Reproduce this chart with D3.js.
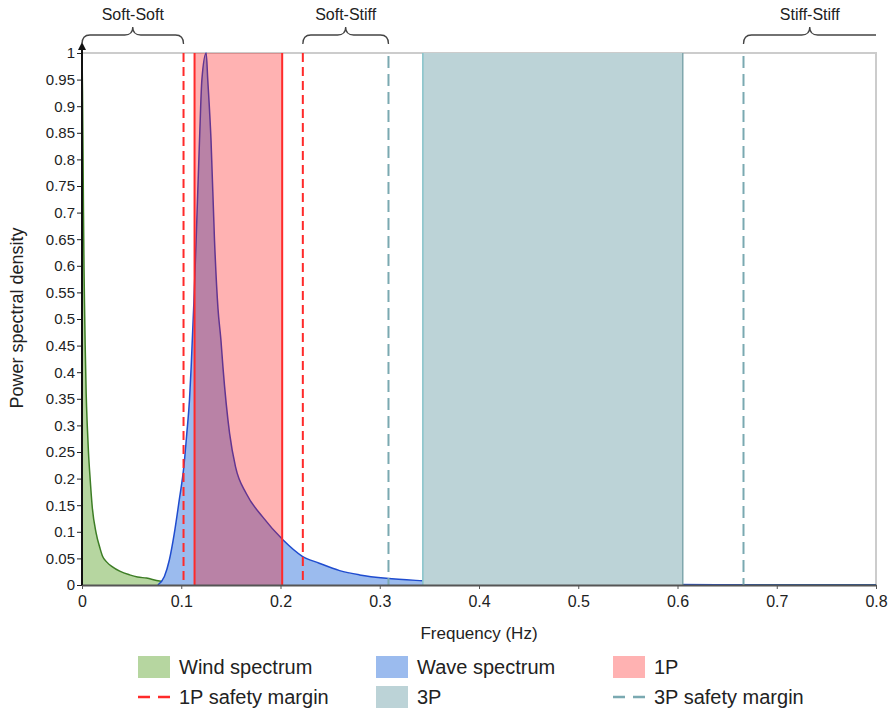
<!DOCTYPE html>
<html>
<head>
<meta charset="utf-8">
<script src="https://cdn.jsdelivr.net/npm/d3@7"></script>
<style>
  body { margin: 0; background: #fff; }
  svg text { font-family: "Liberation Sans", Arial, sans-serif; fill: #222; }
</style>
</head>
<body>
<svg id="viz"></svg>
<script>
// ----------------------------------------------------------------------------------------------------------------
// DATA

var windFreq = [0, 0.0005, 0.001, 0.0015, 0.002, 0.0025, 0.0032, 0.0042, 0.0053, 0.0065, 0.0083, 0.0103,
  0.0143, 0.018, 0.0207, 0.025, 0.0307, 0.038, 0.048, 0.056, 0.065, 0.078, 0.1, 0.2, 0.4, 0.8];
var windPsd = [1, 0.93, 0.82, 0.7, 0.6, 0.53, 0.45, 0.36, 0.3, 0.25, 0.197, 0.147,
  0.097, 0.07, 0.054, 0.043, 0.034, 0.026, 0.019, 0.015, 0.013, 0.0075, 0.005, 0.002, 0.001, 0.0005];

var waveFreq = [0.0764, 0.083, 0.088, 0.093, 0.098, 0.1026, 0.1056, 0.1083, 0.110, 0.1127, 0.115, 0.1184,
  0.1208, 0.1251, 0.1267, 0.130, 0.1335, 0.137, 0.140, 0.142, 0.1487, 0.1547, 0.1655, 0.182, 0.2024,
  0.222, 0.239, 0.2596, 0.2796, 0.3066, 0.3434, 0.4, 0.5, 0.6, 0.7, 0.8];
var wavePsd = [0, 0.016, 0.047, 0.097, 0.16, 0.222, 0.285, 0.348, 0.41, 0.53, 0.648, 0.836,
  0.95, 1.0, 0.95, 0.836, 0.648, 0.52, 0.46, 0.41, 0.285, 0.222, 0.172, 0.128, 0.085,
  0.054, 0.041, 0.027, 0.019, 0.0125, 0.008, 0.004, 0.002, 0.001, 0, 0];

var band1P = [0.1134, 0.2017];
var margin1P = [0.1023, 0.2225];
var band3P = [0.3434, 0.6053];
var margin3P = [0.3088, 0.6665];

var regimeNames = ["Soft-Soft", "Soft-Stiff", "Stiff-Stiff"];
var regimeFrom = [0, 0.2225, 0.6665];
var regimeTo = [0.1023, 0.3088, 0.8];

var xTicks = [0, 0.1, 0.2, 0.3, 0.4, 0.5, 0.6, 0.7, 0.8];
var yTicks = [0, 0.05, 0.1, 0.15, 0.2, 0.25, 0.3, 0.35, 0.4, 0.45, 0.5, 0.55, 0.6, 0.65, 0.7, 0.75, 0.8, 0.85, 0.9, 0.95, 1];

var legendLabels = ["Wind spectrum", "Wave spectrum", "1P", "1P safety margin", "3P", "3P safety margin"];


// ----------------------------------------------------------------------------------------------------------------
// INITIAL SETUP

var w = 890;
var h = 715;
var viz = d3.select("#viz").attr("width", w).attr("height", h);

// note: "top" is taken by window.top, so the plot edges get their own names
var plotL = 82, plotR = 876, plotT = 53, plotB = 585;
var x = d3.scaleLinear().domain([0, 0.8]).range([plotL, plotR]);
var y = d3.scaleLinear().domain([0, 1]).range([plotB, plotT]);

var windColor = "#b6d6a0", windLine = "#3d7d25";
var waveColor = "#9bbbee", waveLine = "#1f4ccf";
var onePColor = "rgba(255,0,0,0.3)", red = "#ff2a2a";
var threePColor = "#bcd3d7", threePLine = "#7aa9b1";

var windPts = windFreq.map(function(f, i) { return [f, windPsd[i]]; });
var wavePts = waveFreq.map(function(f, i) { return [f, wavePsd[i]]; });

var area = d3.area()
  .x(function(d) { return x(d[0]); })
  .y0(y(0))
  .y1(function(d) { return y(d[1]); })
  .curve(d3.curveMonotoneX);
var line = d3.line()
  .x(function(d) { return x(d[0]); })
  .y(function(d) { return y(d[1]); })
  .curve(d3.curveMonotoneX);


// ----------------------------------------------------------------------------------------------------------------
// CHART

// frame (top + right in light grey)
viz.append("path")
  .attr("d", "M" + plotL + "," + plotT + "H" + plotR + "V" + plotB)
  .attr("fill", "none")
  .attr("stroke", "#cccccc")
  .attr("stroke-width", 2);

// wind spectrum
viz.append("path").attr("d", area(windPts)).attr("fill", windColor);
viz.append("path").attr("d", line(windPts)).attr("fill", "none").attr("stroke", windLine).attr("stroke-width", 1.5);

// wave spectrum
viz.append("path").attr("d", area(wavePts)).attr("fill", waveColor);
viz.append("path").attr("d", line(wavePts)).attr("fill", "none").attr("stroke", waveLine).attr("stroke-width", 1.5);

// 1P band, translucent so the wave shows through
viz.append("rect")
  .attr("x", x(band1P[0])).attr("y", plotT)
  .attr("width", x(band1P[1]) - x(band1P[0])).attr("height", plotB - plotT)
  .attr("fill", onePColor);
viz.selectAll(".edge1p")
  .data(band1P)
  .enter()
  .append("line")
  .attr("x1", function(d) { return x(d); }).attr("x2", function(d) { return x(d); })
  .attr("y1", plotT).attr("y2", plotB)
  .attr("stroke", red).attr("stroke-width", 2);

// 3P band
viz.append("rect")
  .attr("x", x(band3P[0])).attr("y", plotT)
  .attr("width", x(band3P[1]) - x(band3P[0])).attr("height", plotB - plotT)
  .attr("fill", threePColor);
viz.selectAll(".edge3p")
  .data(band3P)
  .enter()
  .append("line")
  .attr("x1", function(d) { return x(d); }).attr("x2", function(d) { return x(d); })
  .attr("y1", plotT).attr("y2", plotB)
  .attr("stroke", function(d, i) { return i === 0 ? "#86c3c9" : "#7fa7ad"; })
  .attr("stroke-width", 1.5);

// safety margins
viz.selectAll(".margin1p")
  .data(margin1P)
  .enter()
  .append("line")
  .attr("x1", function(d) { return x(d); }).attr("x2", function(d) { return x(d); })
  .attr("y1", plotT).attr("y2", plotB)
  .attr("stroke", red).attr("stroke-width", 2)
  .attr("stroke-dasharray", "9,5");
viz.selectAll(".margin3p")
  .data(margin3P)
  .enter()
  .append("line")
  .attr("x1", function(d) { return x(d); }).attr("x2", function(d) { return x(d); })
  .attr("y1", plotT + 3).attr("y2", plotB)
  .attr("stroke", threePLine).attr("stroke-width", 2)
  .attr("stroke-dasharray", "12,6");


// ----------------------------------------------------------------------------------------------------------------
// AXES

var xAxis = viz.append("g")
  .attr("transform", "translate(0," + plotB + ")")
  .call(d3.axisBottom(x).tickValues(xTicks).tickSize(4).tickSizeOuter(0).tickFormat(d3.format("")));
xAxis.select(".domain").attr("stroke", "#555").attr("stroke-width", 2);
xAxis.selectAll(".tick line").attr("stroke", "#555");
xAxis.selectAll("text").attr("font-size", 16).attr("fill", "#222").attr("dy", "0.95em");

var yAxis = viz.append("g")
  .attr("transform", "translate(" + plotL + ",0)")
  .call(d3.axisLeft(y).tickValues(yTicks).tickSize(5).tickSizeOuter(0).tickFormat(d3.format("")));
yAxis.select(".domain").remove();
yAxis.selectAll(".tick line").attr("stroke", "#222");
yAxis.selectAll("text").attr("font-size", 15).attr("fill", "#222").attr("x", -7);

// y axis line with arrow head
viz.append("line")
  .attr("x1", plotL).attr("x2", plotL).attr("y1", plotB).attr("y2", plotT - 6)
  .attr("stroke", "#111").attr("stroke-width", 2);
viz.append("path")
  .attr("d", "M" + (plotL - 4) + "," + (plotT - 3) + "L" + plotL + "," + (plotT - 11) + "L" + (plotL + 4) + "," + (plotT - 3) + "Z")
  .attr("fill", "#111");

viz.append("text")
  .attr("x", (plotL + plotR) / 2).attr("y", 639)
  .attr("text-anchor", "middle").attr("font-size", 17)
  .text("Frequency (Hz)");
viz.append("text")
  .attr("transform", "translate(23,318) rotate(-90)")
  .attr("text-anchor", "middle").attr("font-size", 18)
  .text("Power spectral density");


// ----------------------------------------------------------------------------------------------------------------
// REGIME BRACES

function bracePath(x1, x2, curlRight) {
  var yb = 44, ym = 35, yt = 27, r = 8;
  var xm = (x1 + x2) / 2;
  var p = "M" + x1 + "," + yb + "Q" + x1 + "," + ym + " " + (x1 + r) + "," + ym +
    "H" + (xm - r) + "Q" + xm + "," + ym + " " + xm + "," + yt +
    "Q" + xm + "," + ym + " " + (xm + r) + "," + ym;
  if (curlRight) {
    p += "H" + (x2 - r) + "Q" + x2 + "," + ym + " " + x2 + "," + yb;
  } else {
    p += "H" + x2;
  }
  return p;
}

regimeNames.forEach(function(name, i) {
  var x1 = x(regimeFrom[i]), x2 = x(regimeTo[i]);
  viz.append("path")
    .attr("d", bracePath(x1, x2, i < 2))
    .attr("fill", "none").attr("stroke", "#444").attr("stroke-width", 1.3);
  viz.append("text")
    .attr("x", (x1 + x2) / 2).attr("y", 20)
    .attr("text-anchor", "middle").attr("font-size", 16)
    .text(name);
});


// ----------------------------------------------------------------------------------------------------------------
// LEGEND

var legCols = [138, 376, 613];
var legRows = [667, 697];
var legKinds = ["box", "box", "box", "dash", "box", "dash"];
var legColors = [windColor, waveColor, "#ffb2b2", red, threePColor, threePLine];

legendLabels.forEach(function(label, i) {
  var lx = legCols[i % 3], ly = legRows[Math.floor(i / 3)];
  var g = viz.append("g").attr("transform", "translate(" + lx + "," + ly + ")");
  if (legKinds[i] === "box") {
    g.append("rect").attr("x", 0).attr("y", -11).attr("width", 32).attr("height", 22).attr("fill", legColors[i]);
  } else {
    g.append("line").attr("x1", 0).attr("x2", 32).attr("y1", 0).attr("y2", 0)
      .attr("stroke", legColors[i]).attr("stroke-width", 2.5).attr("stroke-dasharray", "12,8");
  }
  g.append("text").attr("x", 41).attr("y", 7).attr("font-size", 20).text(label);
});
</script>
</body>
</html>
